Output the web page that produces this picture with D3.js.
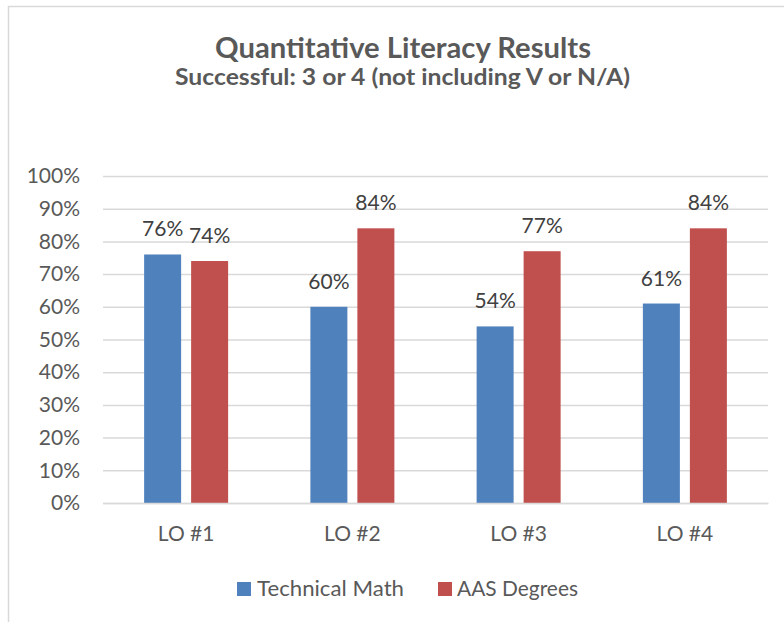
<!DOCTYPE html>
<html>
<head>
<meta charset="utf-8">
<script src="https://cdn.jsdelivr.net/npm/d3@7"></script>
<style>
  html, body { margin: 0; padding: 0; background: #fff; }
  svg { display: block; }
  text { font-family: Lato, "Open Sans", sans-serif; }
</style>
</head>
<body>
<svg id="chart" width="784" height="622"></svg>
<script>
const categories = ["LO #1", "LO #2", "LO #3", "LO #4"];
const seriesNames = ["Technical Math", "AAS Degrees"];
const technicalMath = [0.76, 0.60, 0.54, 0.61];
const aasDegrees = [0.74, 0.84, 0.77, 0.84];
const valueLabelsTech = ["76%", "60%", "54%", "61%"];
const valueLabelsAAS = ["74%", "84%", "77%", "84%"];
const yTicks = [0, 0.1, 0.2, 0.3, 0.4, 0.5, 0.6, 0.7, 0.8, 0.9, 1.0];
const colors = ["#4F81BD", "#C0504D"];

const series = [technicalMath, aasDegrees];
const seriesLabels = [valueLabelsTech, valueLabelsAAS];

const svg = d3.select("#chart");
const W = 784, H = 622;
const plot = { left: 103, right: 768, top: 176, bottom: 503 };

// chart border
svg.append("path")
  .attr("d", `M8.5,${H} L8.5,6.5 L${W},6.5`)
  .attr("fill", "none").attr("stroke", "#d9d9d9").attr("stroke-width", 1.5);

// titles
svg.append("text").attr("x", 403).attr("y", 58)
  .attr("text-anchor", "middle").attr("font-weight", 700).attr("font-size", 28.5)
  .attr("textLength", 376).attr("lengthAdjust", "spacingAndGlyphs")
  .attr("fill", "#595959").text("Quantitative Literacy Results");
svg.append("text").attr("x", 402.5).attr("y", 84.5)
  .attr("text-anchor", "middle").attr("font-weight", 700).attr("font-size", 22.5)
  .attr("textLength", 455).attr("lengthAdjust", "spacingAndGlyphs")
  .attr("fill", "#595959").text("Successful: 3 or 4 (not including V or N/A)");

const y = d3.scaleLinear().domain([0, 1]).range([plot.bottom, plot.top]);
const x0 = d3.scaleBand().domain(categories).range([plot.left, plot.right]).paddingInner(0).paddingOuter(0);

// gridlines
const yAxis = d3.axisLeft(y).tickValues(yTicks).tickFormat(d3.format(".0%"))
  .tickSize(-(plot.right - plot.left)).tickPadding(23);
const gy = svg.append("g").attr("transform", `translate(${plot.left},0)`).call(yAxis);
gy.select(".domain").remove();
gy.selectAll(".tick line").attr("stroke", "#d9d9d9").attr("stroke-width", 1.5);
gy.selectAll(".tick text").attr("fill", "#595959").attr("font-size", 21)
  .attr("font-family", "Lato, sans-serif");

// bars
const barW = 37, gap = 10;
categories.forEach((c, i) => {
  const cx = x0(c) + x0.bandwidth() / 2;
  series.forEach((s, k) => {
    const bx = k === 0 ? cx - gap / 2 - barW : cx + gap / 2;
    svg.append("rect")
      .attr("x", bx).attr("y", y(s[i]))
      .attr("width", barW).attr("height", y(0) - y(s[i]))
      .attr("fill", colors[k]);
    svg.append("text")
      .attr("x", bx + barW / 2).attr("y", y(s[i]) - 18)
      .attr("text-anchor", "middle").attr("font-size", 21)
      .attr("fill", "#404040").text(seriesLabels[k][i]);
  });
});

// x axis
const xAxis = d3.axisBottom(x0).tickSize(0).tickPadding(23);
const gx = svg.append("g").attr("transform", `translate(0,${plot.bottom})`).call(xAxis);
gx.select(".domain").attr("stroke", "#d9d9d9").attr("stroke-width", 1.5);
gx.selectAll(".tick text").attr("fill", "#595959").attr("font-size", 21)
  .attr("font-family", "Lato, sans-serif");

// legend
const legendItems = [
  { name: seriesNames[0], color: colors[0], sx: 237, tx: 257, len: 147 },
  { name: seriesNames[1], color: colors[1], sx: 438, tx: 457, len: 121 }
];
const lg = svg.append("g");
legendItems.forEach(d => {
  lg.append("rect").attr("x", d.sx).attr("y", 582).attr("width", 14).attr("height", 14).attr("fill", d.color);
  lg.append("text").attr("x", d.tx).attr("y", 595.5).attr("font-size", 22)
    .attr("textLength", d.len).attr("lengthAdjust", "spacingAndGlyphs")
    .attr("fill", "#595959").text(d.name);
});
</script>
</body>
</html>
